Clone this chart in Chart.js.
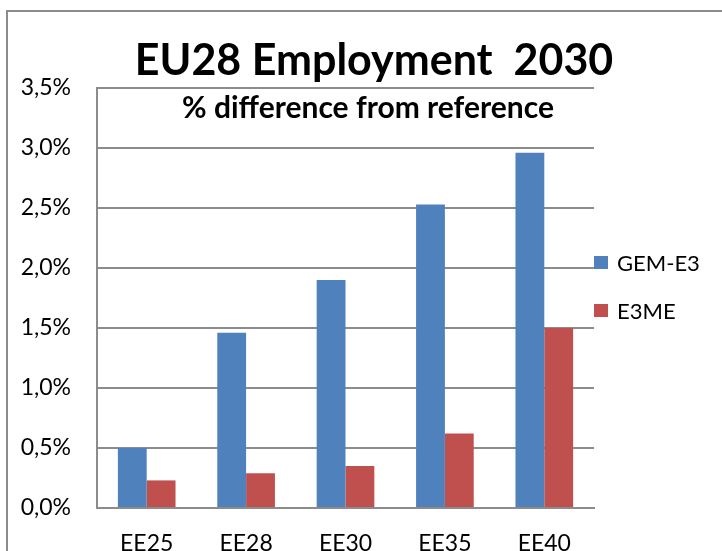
<!DOCTYPE html>
<html>
<head>
<meta charset="utf-8">
<script src="https://cdn.jsdelivr.net/npm/chart.js@4.4.0/dist/chart.umd.min.js"></script>
<style>
    html, body { margin: 0; padding: 0; background: #fff; overflow: hidden; }
    #wrap { position: relative; width: 722px; height: 551px; }
    #frame {
        position: absolute; left: 6px; top: 10px; width: 740px; height: 560px;
        border: 2px solid #8c8c8c; pointer-events: none;
    }
    canvas { position: absolute; left: 0; top: 0; }
    #legend {
        position: absolute; margin: 0; padding: 0; list-style: none;
        font-family: Lato, "Open Sans", sans-serif; font-size: 22px; color: #000;
    }
    #legend li { height: 48px; display: flex; align-items: center; white-space: nowrap; }
    #legend .swatch { display: inline-block; width: 14px; height: 13px; margin-right: 9px; }
</style>
</head>
<body>
<div id="wrap">
    <div id="frame"></div>
    <canvas id="empChart" width="722" height="551"></canvas>
    <ul id="legend"></ul>
</div>
<script>
// data (% difference from reference)
const scenarios = ['EE25', 'EE28', 'EE30', 'EE35', 'EE40'];
const gemE3 = [0.50, 1.46, 1.90, 2.53, 2.96];
const e3me = [0.23, 0.29, 0.35, 0.62, 1.50];
const yTicks = [0, 0.5, 1.0, 1.5, 2.0, 2.5, 3.0, 3.5];

const FONT = 'Lato, "Open Sans", sans-serif';
const GRID = '#8c8c8c';

// title + subtitle sit over the top of the plot, like the Excel original
const titlePlugin = {
    id: 'overTitle',
    afterDraw(chart) {
        const ctx = chart.ctx;
        ctx.save();
        ctx.fillStyle = '#000';
        ctx.textAlign = 'center';
        ctx.textBaseline = 'alphabetic';
        ctx.font = 'bold 43px ' + FONT;
        ctx.fillText('EU28 Employment  2030', 374, 75);
        ctx.font = 'bold 30px ' + FONT;
        ctx.fillText('% difference from reference', 368, 118);
        ctx.restore();
    }
};

// legend built as html from the chart's own legend items
const htmlLegend = {
    id: 'htmlLegend',
    afterUpdate(chart) {
        const ul = document.getElementById('legend');
        ul.innerHTML = '';
        const items = Chart.defaults.plugins.legend.labels.generateLabels(chart);
        items.forEach(item => {
            const li = document.createElement('li');
            const box = document.createElement('span');
            box.className = 'swatch';
            box.style.background = item.fillStyle;
            const txt = document.createElement('span');
            txt.textContent = item.text;
            li.appendChild(box);
            li.appendChild(txt);
            ul.appendChild(li);
        });
        const area = chart.chartArea;
        ul.style.left = area.right + 'px';
        ul.style.top = ((area.top + area.bottom) / 2 - 60) + 'px';
    }
};

new Chart(document.getElementById('empChart').getContext('2d'), {
    type: 'bar',
    data: {
        labels: scenarios,
        datasets: [
            {
                label: 'GEM-E3',
                data: gemE3,
                backgroundColor: '#4f81bd',
                borderWidth: 0
            },
            {
                label: 'E3ME',
                data: e3me,
                backgroundColor: '#c0504d',
                borderWidth: 0
            }
        ]
    },
    options: {
        responsive: false,
        animation: false,
        datasets: {
            bar: { categoryPercentage: 0.58, barPercentage: 1.0 }
        },
        layout: { padding: { top: 88, left: 0, right: 128, bottom: 0 } },
        scales: {
            x: {
                grid: { display: false, drawTicks: false },
                border: { display: true, color: GRID, width: 2 },
                ticks: { color: '#000', font: { family: FONT, size: 23 }, padding: 22 },
                afterFit: (scale) => { scale.height = 43; }
            },
            y: {
                min: 0,
                max: 3.5,
                afterBuildTicks: (scale) => { scale.ticks = yTicks.map(v => ({ value: v })); },
                grid: { color: GRID, lineWidth: 2, drawTicks: false },
                border: { display: true, color: GRID, width: 2 },
                ticks: {
                    color: '#000',
                    font: { family: FONT, size: 23 },
                    padding: 26,
                    callback: (v) => v.toFixed(1).replace('.', ',') + '%'
                },
                afterFit: (scale) => { scale.width = 97; }
            }
        },
        plugins: {
            legend: { display: false },
            tooltip: { enabled: false }
        }
    },
    plugins: [titlePlugin, htmlLegend]
});
</script>
</body>
</html>
